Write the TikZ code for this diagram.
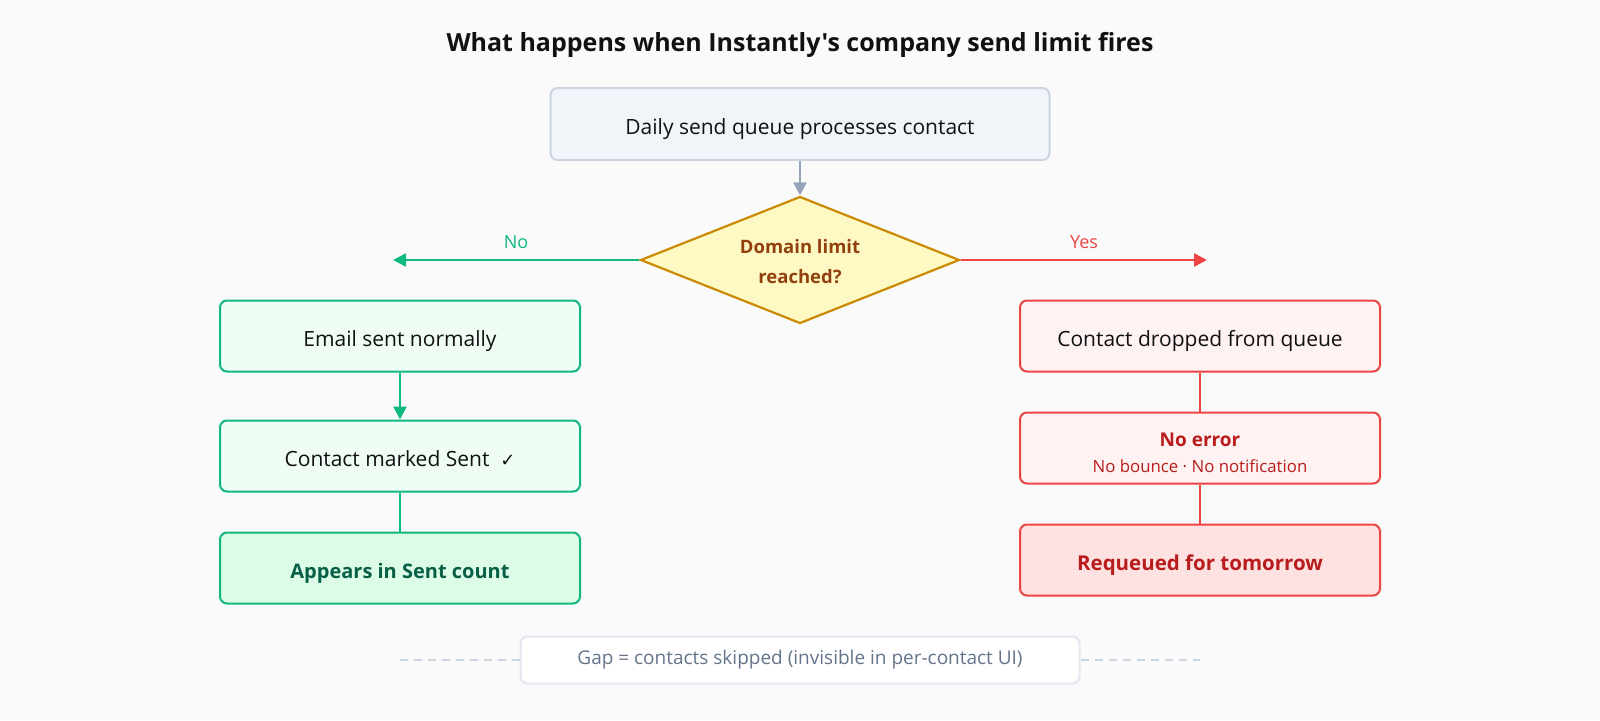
\documentclass[tikz,border=0pt]{standalone}
\usepackage{fontspec}
\setmainfont{Open Sans}[Ligatures=TeXOff]
\newfontfamily\symfont{DejaVu Sans}
\usetikzlibrary{arrows.meta,shapes.geometric}
\definecolor{bg}{HTML}{FAFAFA}
\definecolor{titlec}{HTML}{111111}
\definecolor{grayfill}{HTML}{F1F5F9}
\definecolor{graystroke}{HTML}{CBD5E1}
\definecolor{grayarrow}{HTML}{94A3B8}
\definecolor{ylwfill}{HTML}{FEF9C3}
\definecolor{ylwstroke}{HTML}{CA8A04}
\definecolor{ylwtext}{HTML}{92400E}
\definecolor{grn}{HTML}{10B981}
\definecolor{grnfill}{HTML}{F0FDF4}
\definecolor{grnfill2}{HTML}{DCFCE7}
\definecolor{grntext}{HTML}{065F46}
\definecolor{rd}{HTML}{EF4444}
\definecolor{rdfill}{HTML}{FEF2F2}
\definecolor{rdfill2}{HTML}{FEE2E2}
\definecolor{rdtext}{HTML}{B91C1C}
\definecolor{foottext}{HTML}{64748B}
\definecolor{footborder}{HTML}{E2E8F0}
\definecolor{bodytext}{HTML}{111111}
\tikzset{
  box/.style={rectangle, rounded corners=7pt, line width=2pt, minimum width=360pt, minimum height=71pt, align=center, font=\fontsize{21}{25}\selectfont, text=bodytext, text height=25.5pt, text depth=5pt},
  gbox/.style={box, draw=grn, fill=grnfill},
  rbox/.style={box, draw=rd, fill=rdfill},
  tip/.style={-{Triangle[length=13pt,width=13pt]}},
  garrow/.style={draw=grn, line width=2.5pt, tip},
  rarrow/.style={draw=rd, line width=2.5pt, tip},
  gline/.style={draw=grn, line width=2.5pt},
  rline/.style={draw=rd, line width=2.5pt},
  lbl/.style={font=\fontsize{18}{20}\selectfont},
}
\begin{document}
\begin{tikzpicture}[x=1pt,y=-1pt]
\fill[bg] (0,0) rectangle (1600,720);
\useasboundingbox (0,0) rectangle (1600,720);
\node[font=\fontsize{25}{29}\selectfont\bfseries, text=titlec] (title) at (800,45) {What happens when Instantly's company send limit fires};
\node[box, draw=graystroke, fill=grayfill, minimum width=499pt, minimum height=72pt] (start) at (800,124) {Daily send queue processes contact};
\node[diamond, draw=ylwstroke, fill=ylwfill, line width=2.2pt, minimum width=319pt, minimum height=127pt, inner sep=0pt] (dec) at (800,260) {};
\node[align=center, text=ylwtext, font=\fontsize{18.5}{30}\selectfont\bfseries] (dectext) at ([yshift=-2pt]dec.center) {Domain limit\\reached?};
\draw[draw=grayarrow, line width=2.5pt, tip] (start.south) -- (dec.north);
\coordinate (noend) at (393,260);
\coordinate (yesend) at (1207,260);
\draw[garrow] (dec.west) -- (noend);
\draw[rarrow] (dec.east) -- (yesend);
\node[lbl, text=grn] (nolbl) at (516,242) {No};
\node[lbl, text=rd] (yeslbl) at (1084,242) {Yes};
% left column
\node[gbox] (g1) at (400,336) {Email sent normally};
\node[gbox] (g2) at (400,456) {Contact marked Sent \ {\symfont\fontsize{18}{20}\selectfont ✓}};
\node[gbox, fill=grnfill2, text=grntext, font=\fontsize{20}{24}\selectfont\bfseries] (g3) at (400,568) {Appears in Sent count};
\draw[garrow] (g1.south) -- (g2.north);
\draw[gline] (g2.south) -- (g3.north);
% right column
\node[rbox] (r1) at (1200,336) {Contact dropped from queue};
\node[rbox] (r2) at (1200,448) {};
\node[align=center, text=rdtext, font=\fontsize{19}{22}\selectfont\bfseries] (r2text) at ([yshift=-5pt]r2.center) {No error\\[4pt]{\fontsize{16.8}{18}\selectfont\mdseries No bounce · No notification}};
\node[rbox, fill=rdfill2, text=rdtext, font=\fontsize{20.5}{24}\selectfont\bfseries] (r3) at (1200,560) {Requeued for tomorrow};
\draw[rline] (r1.south) -- (r2.north);
\draw[rline] (r2.south) -- (r3.north);
% footer
\node[rectangle, rounded corners=7pt, draw=footborder, fill=white, line width=2pt, minimum width=559pt, minimum height=47pt, text=foottext, font=\fontsize{19}{22}\selectfont] (foot) at (800,660) {Gap = contacts skipped (invisible in per-contact UI)};
\coordinate (dl) at (400,660);
\coordinate (dr) at (1200,660);
\draw[graystroke, line width=1.5pt, dash pattern=on 8pt off 6pt] (dl) -- (foot.west);
\draw[graystroke, line width=1.5pt, dash pattern=on 8pt off 6pt] (foot.east) -- (dr);
\end{tikzpicture}
\end{document}
